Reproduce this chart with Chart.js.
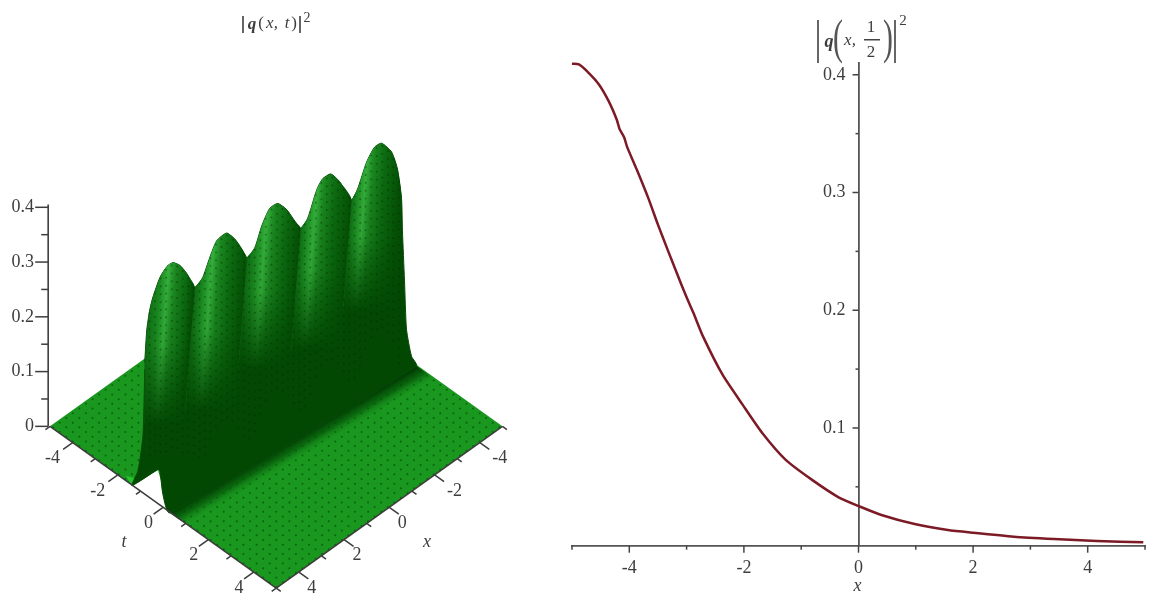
<!DOCTYPE html>
<html><head><meta charset="utf-8">
<script src="https://cdn.jsdelivr.net/npm/chart.js@4/dist/chart.umd.js"></script>
<style>
html,body{margin:0;padding:0;background:#fff;width:1157px;height:606px;overflow:hidden}
canvas{position:absolute;top:0;filter:blur(0.6px)}
#surface{left:0}#slice{left:560px}
</style></head><body>
<canvas id="surface" width="560" height="606"></canvas>
<canvas id="slice" width="597" height="606"></canvas>
<script>
// ---- right panel: |q(x,1/2)|^2
const curveX=[-5,-4.88,-4.71,-4.53,-4.36,-4.22,-4.17,-4.09,-4.04,-3.87,-3.67,-3.5,-3.32,-3.09,-3,-2.88,-2.716,-2.37,-2.02,-1.676,-1.27,-0.81,-0.347,0,0.4,0.98,1.56,2,2.71,3.41,4.16,4.97];
const curveY=[0.4094,0.4088,0.4017,0.3918,0.3776,0.362,0.354,0.347,0.339,0.3195,0.2954,0.2727,0.25,0.2217,0.211,0.1976,0.178,0.145,0.1196,0.0955,0.0729,0.0559,0.0411,0.0337,0.0261,0.0184,0.0133,0.011,0.0077,0.0057,0.004,0.0029];
const sliceXTicks=[-4,-2,0,2,4];
const sliceYTicks=[0.1,0.2,0.3,0.4];

// ---- left panel: apparent ridge outline, as (t-x, height) pairs
const crestS=[-5.81,-5.72,-5.59,-5.45,-5.14,-4.83,-4.57,-4.26,-3.95,-3.6,-3.25,-2.94,-2.63,-2.19,-1.83,-1.52,-1.3,-0.95,-0.64,-0.29,0.07,0.46,0.82,1.08,1.39,1.79,2.05,2.41,2.8,3.33,3.6,4,4.35,4.66,5.1,5.36,5.54,5.58,5.67,5.76,5.98,6.2];
const crestH=[0.119,0.177,0.213,0.236,0.272,0.292,0.299,0.294,0.279,0.254,0.272,0.308,0.339,0.353,0.342,0.324,0.308,0.326,0.366,0.398,0.407,0.396,0.375,0.362,0.38,0.432,0.452,0.461,0.447,0.414,0.434,0.483,0.51,0.517,0.501,0.47,0.416,0.357,0.267,0.177,0.128,0.11];
const frontS=[-4.7,-5.01,-5.14,-5.23,-6.38,-6.11,-5.89,-5.81];
const frontH=[-0.158,-0.124,-0.081,-0.079,-0.108,-0.081,-0.016,0.105];
const notchS=[-6.38,-5.23,-4.7];
const notchH=[-0.108,-0.079,-0.158];
const lobeStart=[-5.81,-3.6,-1.3,1.08,3.33];
const lobeEnd=[-3.6,-1.3,1.08,3.33,5.54];
const lobeBright=[-4.75,-2.8,-0.42,1.79,4.0];
const lobeBottom=[0.004,0.03,0.105,0.14,0.21];
const surfaceRange=[-5,5];
const floorTicks=[-5,-4,-3,-2,-1,0,1,2,3,4,5];
const floorLabels=[-4,-2,0,2,4];
const heightTicks=[0,0.05,0.1,0.15,0.2,0.25,0.3,0.35,0.4];

const SERIF='"Liberation Serif","Times New Roman",serif';
const INK='#3d3d3d';
const K=0.02955;
const project=(t,x,z=0)=>({x:t-x,y:z-(t+x)*K});
const zip=(a,b)=>a.map((v,i)=>({x:v,y:b[i]}));
const crest=zip(crestS,crestH);
const poly=(data,color,extra={})=>({data,backgroundColor:color,borderWidth:0,fill:'shape',pointRadius:0,tension:0,clip:false,...extra});
const sx=c=>c.scales.x, sy=c=>c.scales.y;

function crestAt(s){
  for(let i=1;i<crestS.length;i++) if(s<=crestS[i]){
    const f=(s-crestS[i-1])/(crestS[i]-crestS[i-1]);return crestH[i-1]+f*(crestH[i]-crestH[i-1]);
  }
  return crestH[crestH.length-1];
}

// ----- build the painted layers, back to front
const layers=[];
const [lo,hi]=surfaceRange;
layers.push(poly([project(lo,hi),project(hi,hi),project(hi,lo),project(lo,lo)],'#1a971f'));
// floor mesh
const floorDots=[];
for(let t=lo+0.1;t<hi;t+=0.29)for(let x=lo+0.1;x<hi;x+=0.29)floorDots.push(project(t,x));
layers.push({data:floorDots,showLine:false,pointRadius:1,pointBorderWidth:0,pointBackgroundColor:'rgba(0,65,0,0.6)',clip:false});
// shadow on the floor at the foot of the ridge
layers.push(poly([{x:-4.7,y:-0.158},{x:6.2,y:0.11},{x:6.95,y:0.0877},{x:-3.95,y:-0.1803}],c=>{
  const ch=c.chart;if(!ch.chartArea)return '#1a971f';
  const X=sx(ch).getPixelForValue(-4.7),Y=sy(ch).getPixelForValue(-0.158);
  const g=ch.ctx.createLinearGradient(X,Y,X+10,Y+17);
  g.addColorStop(0,'rgba(1,60,3,1)');g.addColorStop(0.45,'rgba(3,80,6,.65)');g.addColorStop(1,'rgba(26,151,31,0)');return g;
}));
// notch where the sheet is open
layers.push(poly(zip(notchS,notchH),'#ffffff'));
layers.push(poly([{x:-6.65,y:-0.09},{x:-6.2,y:-0.095},{x:-6.38,y:-0.108}],'#27c42c'));
// ridge body
layers.push(poly(crest.concat(zip(frontS,frontH)),'#024803',{borderWidth:1,borderColor:'#074a09',tension:0.2}));
// lobes
lobeStart.forEach((a,i)=>{
  const b=lobeEnd[i],bottom=lobeBottom[i];
  const seg=crest.filter(p=>p.x>=a&&p.x<=b);
  const lean=s=>1.885*(crestAt(s)-bottom);
  const outline=seg.concat([{x:b-lean(b),y:bottom},{x:i===0?a:a-lean(a),y:bottom}]);
  const cover=seg.concat([{x:b-lean(b),y:bottom-0.008},{x:i===0?a:a-lean(a),y:bottom-0.008}]);
  const p=(lobeBright[i]-a)/(b-a);
  layers.push(poly(outline,c=>{
    const ch=c.chart;if(!ch.chartArea)return '#0a6a0e';
    const X0=sx(ch).getPixelForValue(a),X1=sx(ch).getPixelForValue(b),Y=sy(ch).getPixelForValue(crestAt(lobeBright[i]));
    const g=ch.ctx.createLinearGradient(X0,Y,X1,Y+(X1-X0)*5/65);
    g.addColorStop(0,'#0a5c0c');g.addColorStop(Math.max(0.02,p-0.15),'#1b8a21');g.addColorStop(p,'#35b03c');
    g.addColorStop(Math.min(0.98,p+0.14),'#1b8620');g.addColorStop(Math.min(0.99,p+0.36),'#0c6a10');g.addColorStop(1,'#044f05');return g;
  },{tension:0.2}));
  layers.push(poly(cover,c=>{
    const ch=c.chart;if(!ch.chartArea)return 'rgba(0,0,0,0)';
    const top=sy(ch).getPixelForValue(crestAt(lobeBright[i])),bot=sy(ch).getPixelForValue(bottom);
    const g=ch.ctx.createLinearGradient(0,top,0,bot);
    g.addColorStop(0,'rgba(2,72,3,0)');g.addColorStop(0.5,'rgba(2,72,3,.12)');g.addColorStop(0.8,'rgba(2,72,3,.65)');g.addColorStop(1,'rgba(2,72,3,1)');return g;
  },{tension:0.2}));
});
// surface mesh on the ridge (texture), kept inside the ridge body
const ridgeDots=[];
for(let s=-5.6;s<5.5;s+=0.245){
  const top=crestAt(s),floorH=Math.max(-0.07,-0.158+(s+4.7)*0.02459)+0.012;
  for(let k=0;k<24;k++){const y=top-0.004-k*0.0144;if(y>floorH)ridgeDots.push({x:s,y});}
}
layers.push({data:ridgeDots,showLine:false,pointRadius:0.95,pointBorderWidth:0,pointBackgroundColor:'rgba(0,40,0,0.42)',clip:false});
// axis lines
const axisLine=d=>({data:d,borderColor:INK,borderWidth:1.6,pointRadius:0,fill:false,tension:0,clip:false});
layers.push(axisLine([project(lo,hi),project(hi,hi)]));
layers.push(axisLine([project(hi,lo),project(hi,hi)]));
layers.push(axisLine([{x:-10.08,y:0},{x:-10.08,y:0.405}]));

function text(ctx,str,x,y,font,color=INK,align='center'){
  ctx.font=font;ctx.fillStyle=color;ctx.textAlign=align;ctx.textBaseline='middle';ctx.fillText(str,x,y);
}
function bar(ctx,x,y0,y1){ctx.strokeStyle='#555';ctx.lineWidth=1.8;ctx.beginPath();ctx.moveTo(x,y0);ctx.lineTo(x,y1);ctx.stroke();}

const surfaceDecor={id:'surfaceDecor',afterDatasetsDraw(ch){
  const ctx=ch.ctx,X=sx(ch),Y=sy(ch);
  const px=p=>({x:X.getPixelForValue(p.x),y:Y.getPixelForValue(p.y)});
  ctx.save();
  ctx.strokeStyle=INK;ctx.lineWidth=1.5;
  const seg=(a,b)=>{ctx.beginPath();ctx.moveTo(a.x,a.y);ctx.lineTo(b.x,b.y);ctx.stroke();};
  heightTicks.forEach((v,i)=>{const y=Y.getPixelForValue(v),x=X.getPixelForValue(-10.08);seg({x,y},{x:x-(i%2?7:13),y});});
  floorTicks.forEach(v=>{
    const len=(v%2===0)?0.42:0.2;
    seg(px(project(v,hi)),px(project(v,hi+len)));
    seg(px(project(hi,v)),px(project(hi+len,v)));
  });
  const F='18px '+SERIF;
  floorLabels.forEach(v=>{
    const a=px(project(v,hi)),b=px(project(hi,v));
    text(ctx,String(v),a.x+(v<0?-20:-14.5),a.y+16,F);
    text(ctx,String(v),b.x+(v<0?20:13),b.y+16,F);
  });
  text(ctx,'t',124,542,'italic 18px '+SERIF);
  text(ctx,'x',427,542,'italic 18px '+SERIF);
  // title
  bar(ctx,243,16,33);
  text(ctx,'q',252,25,'italic bold 17px '+SERIF);
  text(ctx,'(',261,24,'17px '+SERIF);
  text(ctx,'x,',272,24,'italic 17px '+SERIF);
  text(ctx,'t',287,24,'italic 17px '+SERIF);
  text(ctx,')',294,24,'17px '+SERIF);
  bar(ctx,300,16,33);
  text(ctx,'2',307,18,'14px '+SERIF);
  ctx.restore();
}};

new Chart(document.getElementById('surface'),{
  type:'line',
  data:{datasets:layers.slice().reverse()},
  options:{responsive:false,animation:false,events:[],
    plugins:{legend:{display:false},tooltip:{enabled:false}},
    layout:{padding:0},
    scales:{
      x:{type:'linear',display:false,min:-10.088,max:12.367},
      y:{type:'linear',min:-0.3207,max:0.7712,
        afterFit(s){s.width=48;s.paddingTop=0;s.paddingBottom=0;s.paddingLeft=0;s.paddingRight=0;},
        grid:{display:false,drawTicks:false},border:{display:false},
        ticks:{stepSize:0.1,autoSkip:false,includeBounds:false,padding:14,color:INK,font:{family:SERIF,size:18},
          callback(v){
            if(v<-1e-6||v>0.4+1e-6)return '';
            return Math.abs(v)<1e-6?'0':(+v).toFixed(1);
          }}
      }
    }
  },
  plugins:[surfaceDecor]
});

const sliceDecor={id:'sliceDecor',afterDatasetsDraw(ch){
  const ctx=ch.ctx,X=sx(ch),Y=sy(ch);
  ctx.save();ctx.strokeStyle='#444';ctx.lineWidth=1.5;
  const x0=X.getPixelForValue(0),y0=Y.getPixelForValue(0);
  for(let v=-5;v<=5;v++){const x=X.getPixelForValue(v);ctx.beginPath();ctx.moveTo(x,y0);ctx.lineTo(x,y0+(v%2===0?7:4));ctx.stroke();}
  for(let k=1;k<=8;k++){const y=Y.getPixelForValue(k*0.05);ctx.beginPath();ctx.moveTo(x0,y);ctx.lineTo(x0-(k%2===0?6:3),y);ctx.stroke();}
  sliceYTicks.forEach(v=>text(ctx,v.toFixed(1),x0-13,Y.getPixelForValue(v),'18px '+SERIF,INK,'right'));
  text(ctx,'x',x0-1,586,'italic 18px '+SERIF);
  // title (canvas starts at page x=560)
  const o=-560;
  bar(ctx,818+o,20,63);bar(ctx,895+o,20,63);
  text(ctx,'q',829+o,42,'italic bold 18px '+SERIF);
  ctx.save();ctx.translate(838+o,40);ctx.scale(0.62,1);text(ctx,'(',0,0,'48px '+SERIF,'#555');ctx.restore();
  text(ctx,'x,',850+o,41,'italic 17px '+SERIF);
  text(ctx,'1',871+o,28,'17px '+SERIF);
  ctx.fillStyle='#444';ctx.fillRect(864+o,39,16,1.5);
  text(ctx,'2',871+o,53,'17px '+SERIF);
  ctx.save();ctx.translate(888+o,40);ctx.scale(0.62,1);text(ctx,')',0,0,'48px '+SERIF,'#555');ctx.restore();
  text(ctx,'2',903+o,21,'15px '+SERIF);
  ctx.restore();
}};

new Chart(document.getElementById('slice'),{
  type:'line',
  data:{datasets:[{data:zip(curveX,curveY),borderColor:'#7c1a26',borderWidth:2.5,pointRadius:0,tension:0.2,fill:false,clip:false}]},
  options:{responsive:false,animation:false,events:[],
    plugins:{legend:{display:false},tooltip:{enabled:false}},
    layout:{padding:{left:11.5,right:8.5,top:63,bottom:60.3}},
    scales:{
      x:{type:'linear',min:-5,max:5,position:{y:0},
        grid:{display:false,drawTicks:false},border:{display:true,color:'#555',width:1.8},
        ticks:{stepSize:1,autoSkip:false,maxRotation:0,padding:12,color:INK,font:{family:SERIF,size:18},
          callback(v){return sliceXTicks.includes(v)?String(v):'';}}
      },
      y:{type:'linear',min:0,max:0.41,position:{x:0},
        grid:{display:false,drawTicks:false},border:{display:true,color:'#555',width:1.8},
        ticks:{display:false,stepSize:0.05}
      }
    }
  },
  plugins:[sliceDecor]
});
</script>
</body></html>
